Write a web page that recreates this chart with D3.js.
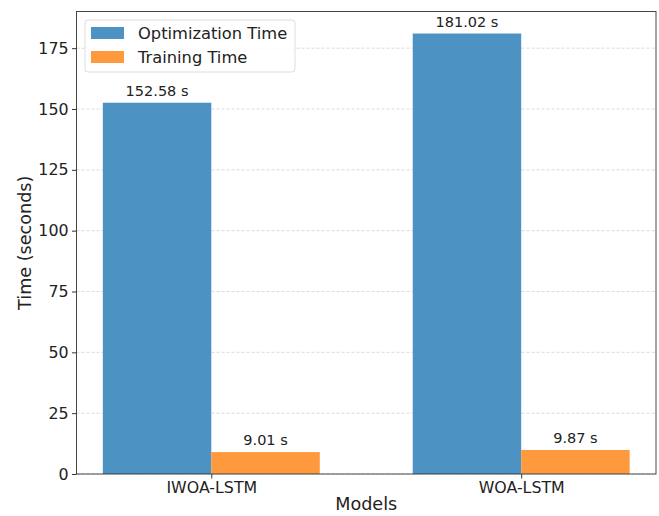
<!DOCTYPE html>
<html>
<head>
<meta charset="utf-8">
<script src="https://cdn.jsdelivr.net/npm/d3@7"></script>
<style>
  body { margin: 0; background: #fff; }
  text { font-family: "DejaVu Sans", sans-serif; fill: #222; }
</style>
</head>
<body>
<svg id="chart" width="659" height="516"></svg>
<script>
// Run times per model
const models = ["IWOA-LSTM", "WOA-LSTM"];
const seriesNames = ["Optimization Time", "Training Time"];
const optimizationTime = [152.58, 181.02];
const trainingTime = [9.01, 9.87];
const yTicks = [0, 25, 50, 75, 100, 125, 150, 175];
const colors = ["#4c92c3", "#ff993e"];

const svg = d3.select("#chart");
const margin = { left: 76.5, right: 3, top: 11.5, bottom: 42 };
const W = 659, H = 516;
const plotW = W - margin.left - margin.right;
const plotH = H - margin.top - margin.bottom;
const g = svg.append("g").attr("transform", `translate(${margin.left},${margin.top})`);

const barW = 0.35;
const x = d3.scaleLinear().domain([-0.435, 1.435]).range([0, plotW]);
const y = d3.scaleLinear().domain([0, 190.071]).range([plotH, 0]);

// horizontal grid
g.append("g").selectAll("line").data(yTicks).join("line")
  .attr("x1", 0).attr("x2", plotW)
  .attr("y1", d => y(d)).attr("y2", d => y(d))
  .attr("stroke", "#b0b0b0").attr("stroke-opacity", 0.6)
  .attr("stroke-dasharray", "3,2").attr("stroke-width", 0.8);

const series = [optimizationTime, trainingTime];
series.forEach((vals, si) => {
  const off = si === 0 ? -barW / 2 : barW / 2;
  const bars = g.append("g");
  bars.selectAll("rect").data(vals).join("rect")
    .attr("x", (d, i) => x(i + off - barW / 2))
    .attr("width", x(barW) - x(0))
    .attr("y", d => y(d))
    .attr("height", d => y(0) - y(d))
    .attr("fill", colors[si]);
  bars.selectAll("text").data(vals).join("text")
    .attr("x", (d, i) => x(i + off))
    .attr("y", d => y(d) - 7)
    .attr("text-anchor", "middle")
    .attr("font-size", 14.5)
    .text(d => d.toFixed(2) + " s");
});

// axes
const yAxis = d3.axisLeft(y).tickValues(yTicks).tickSize(4.5).tickPadding(3.5);
const ya = g.append("g").call(yAxis);
ya.selectAll("text").attr("font-size", 15.8).style("font-family", "DejaVu Sans");
ya.select(".domain").remove();
ya.selectAll("line").attr("stroke", "#333");

const xAxis = d3.axisBottom(x).tickValues([0, 1]).tickFormat(i => models[i]).tickSize(4.5).tickPadding(3.5);
const xa = g.append("g").attr("transform", `translate(0,${plotH})`).call(xAxis);
xa.selectAll("text").attr("font-size", 15.8).style("font-family", "DejaVu Sans");
xa.select(".domain").remove();
xa.selectAll("line").attr("stroke", "#333");

// frame
g.append("rect").attr("x", 0).attr("y", 0).attr("width", plotW).attr("height", plotH)
  .attr("fill", "none").attr("stroke", "#333").attr("stroke-width", 0.9);

// axis titles
svg.append("text").attr("x", margin.left + plotW / 2).attr("y", 510)
  .attr("text-anchor", "middle").attr("font-size", 17.6).text("Models");
svg.append("text").attr("transform", `translate(31,${margin.top + plotH / 2}) rotate(-90)`)
  .attr("text-anchor", "middle").attr("font-size", 17.6).text("Time (seconds)");

// legend
const leg = g.append("g").attr("transform", "translate(8.5,8.5)");
leg.append("rect").attr("width", 210).attr("height", 52).attr("rx", 3)
  .attr("fill", "#fff").attr("fill-opacity", 0.8).attr("stroke", "#ddd");
seriesNames.forEach((name, i) => {
  leg.append("rect").attr("x", 6).attr("y", 7 + i * 24).attr("width", 33).attr("height", 12)
    .attr("fill", colors[i]);
  leg.append("text").attr("x", 53).attr("y", 19 + i * 24).attr("font-size", 16.3).text(name);
});
</script>
</body>
</html>
